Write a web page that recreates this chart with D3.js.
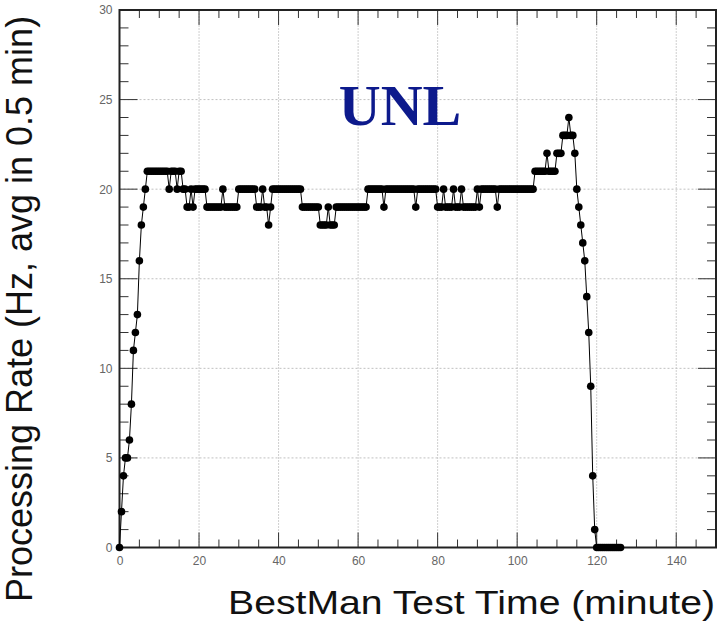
<!DOCTYPE html>
<html>
<head>
<meta charset="utf-8">
<script src="https://cdn.jsdelivr.net/npm/d3@7"></script>
<style>
  html, body { margin: 0; padding: 0; background: #fff; }
  svg { display: block; }
</style>
</head>
<body>
<svg id="chart" width="724" height="624"></svg>
<script>
// ---- Data ----
const title = "UNL";
const xLabel = "BestMan Test Time (minute)";
const yLabel = "Processing Rate (Hz, avg in 0.5 min)";
const binWidth = 0.5; // minutes per bin
const xTickValues = [0, 20, 40, 60, 80, 100, 120, 140];
const yTickValues = [0, 5, 10, 15, 20, 25, 30];
// processing rate per 0.5-minute bin, starting at t = 0
const rates = [
  0, 2, 4, 5, 5, 6, 8, 11, 12, 13, 16, 18, 19, 20, 21, 21, 21, 21, 21, 21,
  21, 21, 21, 21, 21, 20, 21, 21, 21, 20, 21, 21, 20, 20, 19, 19, 20, 19, 20, 20,
  20, 20, 20, 20, 19, 19, 19, 19, 19, 19, 19, 19, 20, 19, 19, 19, 19, 19, 19, 19,
  20, 20, 20, 20, 20, 20, 20, 20, 20, 19, 19, 19, 20, 19, 19, 18, 19, 20, 20, 20,
  20, 20, 20, 20, 20, 20, 20, 20, 20, 20, 20, 20, 19, 19, 19, 19, 19, 19, 19, 19,
  19, 18, 18, 18, 18, 19, 18, 18, 18, 19, 19, 19, 19, 19, 19, 19, 19, 19, 19, 19,
  19, 19, 19, 19, 19, 20, 20, 20, 20, 20, 20, 20, 20, 19, 20, 20, 20, 20, 20, 20,
  20, 20, 20, 20, 20, 20, 20, 20, 20, 19, 20, 20, 20, 20, 20, 20, 20, 20, 20, 20,
  19, 19, 19, 20, 19, 19, 19, 19, 20, 19, 19, 19, 20, 19, 19, 19, 19, 19, 19, 19,
  20, 19, 20, 20, 20, 20, 20, 20, 20, 20, 19, 20, 20, 20, 20, 20, 20, 20, 20, 20,
  20, 20, 20, 20, 20, 20, 20, 20, 20, 21, 21, 21, 21, 21, 21, 22, 21, 21, 21, 21,
  22, 22, 22, 23, 23, 23, 24, 23, 23, 22, 20, 19, 18, 17, 16, 14, 12, 9, 4, 1,
  0, 0, 0, 0, 0, 0, 0, 0, 0, 0, 0, 0, 0
];

// ---- Layout ----
const svg = d3.select("#chart");
const x = d3.scaleLinear().domain([0, 150]).range([119.5, 716]);
const y = d3.scaleLinear().domain([0, 30]).range([547.5, 10]);
const [x0, x1] = x.range();
const [y0, y1] = y.range();

const points = rates.map((v, i) => ({ t: i * binWidth, v }));

// grid
const grid = svg.append("g");
grid.selectAll("line.vx").data(xTickValues.filter(d => d > 0))
  .join("line")
  .attr("x1", d => x(d)).attr("x2", d => x(d))
  .attr("y1", y1).attr("y2", y0)
  .attr("stroke", "#cfcfcf").attr("stroke-width", 1)
  .attr("stroke-dasharray", "2,1");
grid.selectAll("line.hy").data(yTickValues.filter(d => d > 0 && d < 30))
  .join("line")
  .attr("x1", x0).attr("x2", x1)
  .attr("y1", d => y(d)).attr("y2", d => y(d))
  .attr("stroke", "#c0c0c0").attr("stroke-width", 1)
  .attr("stroke-dasharray", "2,2");

// ticks (ROOT style, inside frame)
const ticksG = svg.append("g").attr("stroke", "#333").attr("stroke-width", 1);
const xMinor = d3.range(0, 151, 5);
const yMinor = d3.range(0, 31, 1);
xMinor.forEach(d => {
  const len = d % 20 === 0 ? 15 : 8;
  ticksG.append("line").attr("x1", x(d)).attr("x2", x(d)).attr("y1", y0).attr("y2", y0 - len);
  ticksG.append("line").attr("x1", x(d)).attr("x2", x(d)).attr("y1", y1).attr("y2", y1 + len);
});
yMinor.forEach(d => {
  const len = d % 5 === 0 ? 18 : 9;
  ticksG.append("line").attr("y1", y(d)).attr("y2", y(d)).attr("x1", x0).attr("x2", x0 + len);
  ticksG.append("line").attr("y1", y(d)).attr("y2", y(d)).attr("x1", x1).attr("x2", x1 - len);
});

// tick labels via d3 axes
const xAxis = d3.axisBottom(x).tickValues(xTickValues).tickSize(0).tickPadding(0).tickFormat(d3.format("d"));
const yAxis = d3.axisLeft(y).tickValues(yTickValues).tickSize(0).tickPadding(0).tickFormat(d3.format("d"));
const gx = svg.append("g").attr("transform", `translate(0,${y0 + 9})`).call(xAxis);
const gy = svg.append("g").attr("transform", `translate(${x0 - 7},0)`).call(yAxis);
[gx, gy].forEach(g => {
  g.select(".domain").remove();
  g.selectAll("text")
    .attr("font-family", "'Liberation Sans', Arial, sans-serif")
    .attr("font-size", 12)
    .attr("fill", "#666");
});

// frame
svg.append("rect")
  .attr("x", x0).attr("y", y1)
  .attr("width", x1 - x0).attr("height", y0 - y1)
  .attr("fill", "none").attr("stroke", "#222").attr("stroke-width", 2);

// data line + markers
svg.append("path")
  .datum(points)
  .attr("fill", "none")
  .attr("stroke", "#000")
  .attr("stroke-width", 1)
  .attr("d", d3.line().x(d => x(d.t)).y(d => y(d.v)));
svg.append("g").selectAll("circle").data(points).join("circle")
  .attr("cx", d => x(d.t)).attr("cy", d => y(d.v))
  .attr("r", 3.8).attr("fill", "#000");

// title
svg.append("text")
  .attr("x", 400).attr("y", 125)
  .attr("text-anchor", "middle")
  .attr("font-family", "'Liberation Serif', 'Times New Roman', serif")
  .attr("font-weight", "bold")
  .attr("font-size", 58)
  .attr("fill", "#0d1a8c")
  .text(title);

// axis titles
svg.append("text")
  .attr("x", 715).attr("y", 614)
  .attr("text-anchor", "end")
  .attr("font-family", "'Liberation Sans', Arial, sans-serif")
  .attr("font-size", 34)
  .attr("textLength", 487)
  .attr("lengthAdjust", "spacingAndGlyphs")
  .attr("fill", "#111")
  .text(xLabel);
svg.append("text")
  .attr("transform", "translate(32,309) rotate(-90)")
  .attr("text-anchor", "middle")
  .attr("font-family", "'Liberation Sans', Arial, sans-serif")
  .attr("font-size", 36)
  .attr("fill", "#111")
  .text(yLabel);
</script>
</body>
</html>
